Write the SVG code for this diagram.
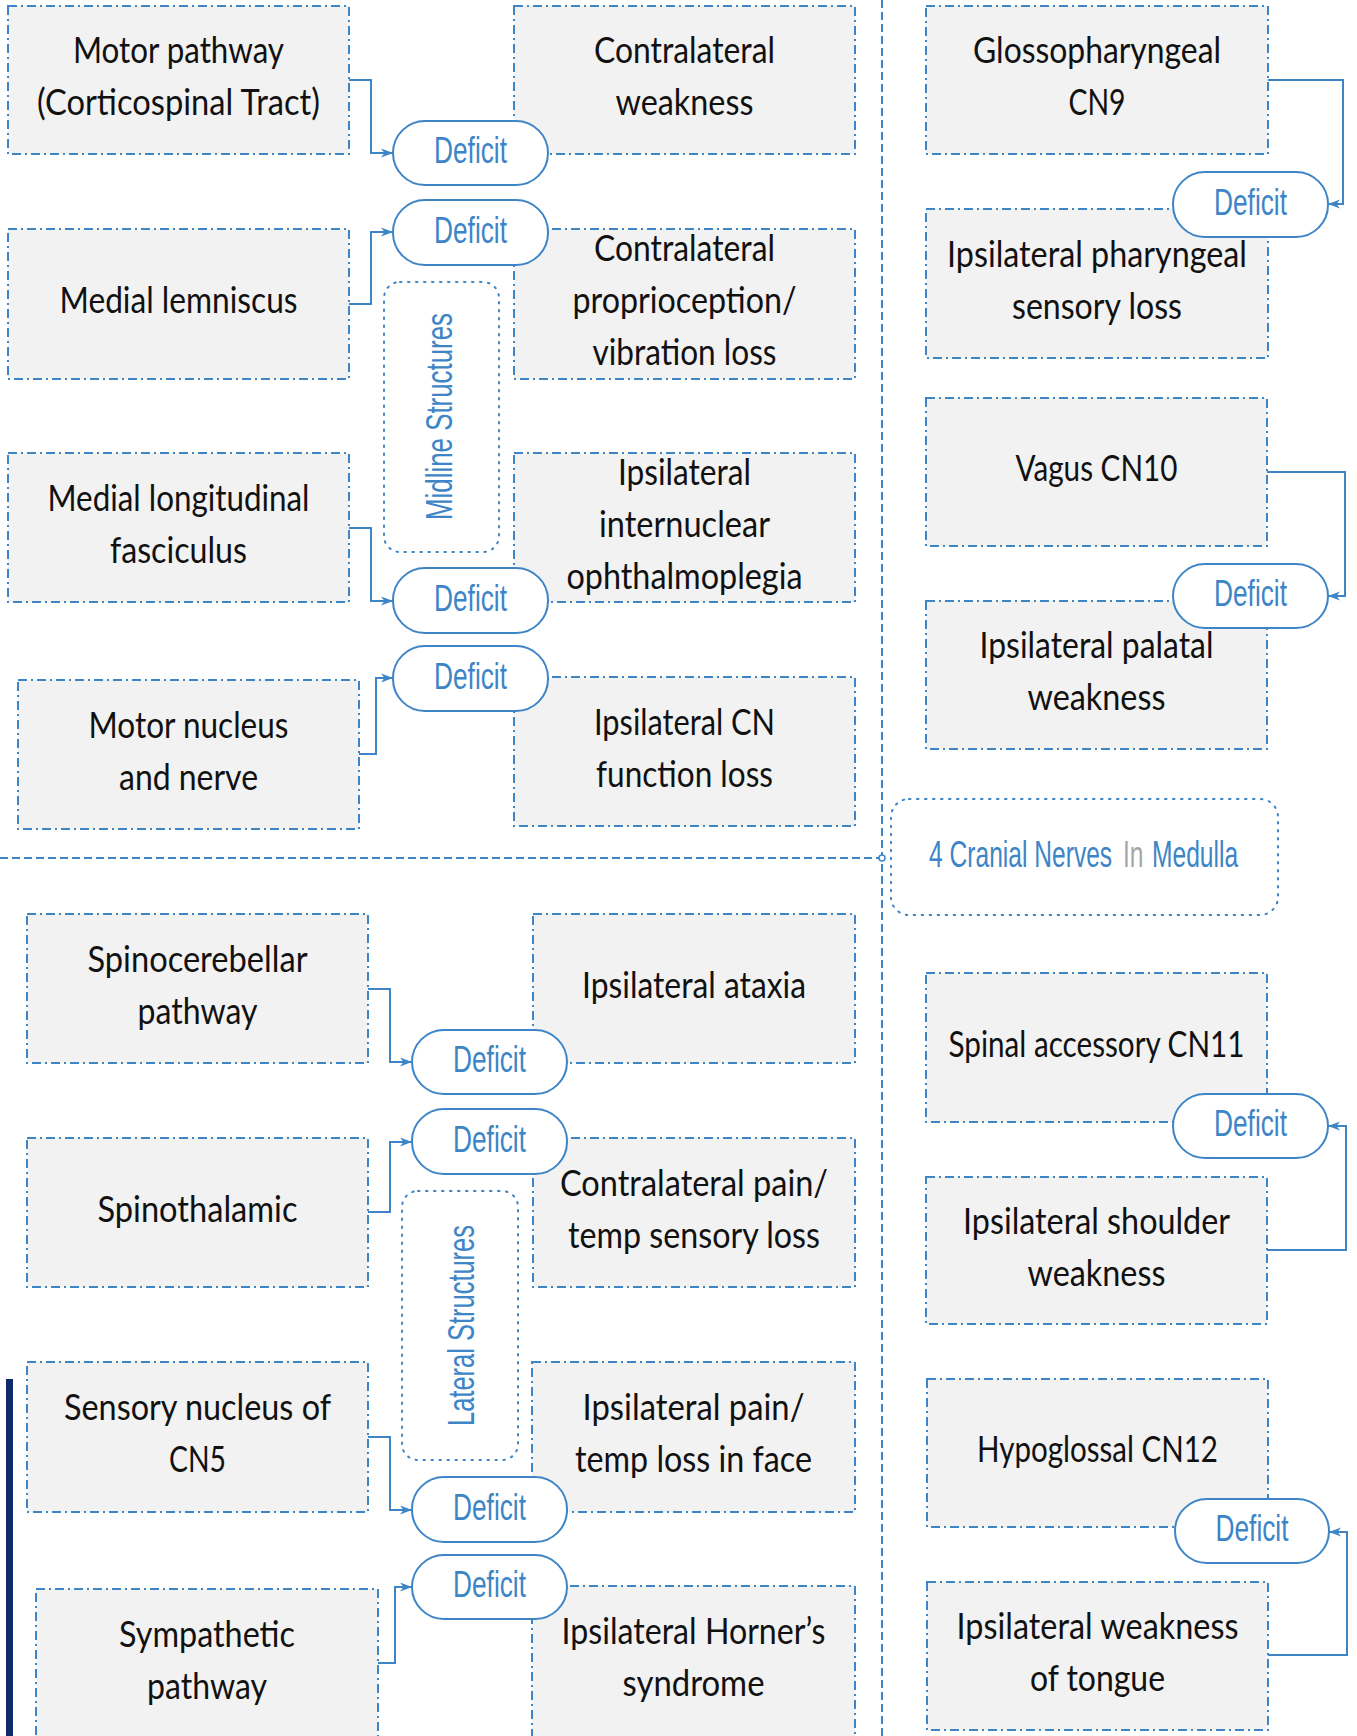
<svg xmlns="http://www.w3.org/2000/svg" width="1357" height="1736" viewBox="0 0 1357 1736">
<style>
.box{fill:#f2f2f2;stroke:#3d85c6;stroke-width:2;stroke-dasharray:9 4 2 4}
.pill{fill:#ffffff;stroke:#3d85c6;stroke-width:2}
.grp{fill:none;stroke:#3d85c6;stroke-width:2;stroke-dasharray:1.5 6.5;stroke-linecap:round}
.sep{fill:none;stroke:#3d85c6;stroke-width:2;stroke-dasharray:8 4}
.con{fill:none;stroke:#3d85c6;stroke-width:2;marker-end:url(#arr)}
.t{font-family:Lato,"Liberation Sans",sans-serif;font-size:36px;fill:#111111;text-anchor:middle}
.d{font-family:"Liberation Sans Narrow","Liberation Sans",sans-serif;font-size:37px;fill:#3d85c6;text-anchor:middle}
.g{font-family:"Liberation Sans Narrow","Liberation Sans",sans-serif;font-size:37px;fill:#3d85c6}
.gt{font-family:"Liberation Sans",sans-serif;font-size:37px;fill:#3d85c6}
</style>
<defs>
<marker id="arr" markerUnits="userSpaceOnUse" markerWidth="13" markerHeight="10" refX="12" refY="5" orient="auto">
<path d="M0,0.5 L12,5 L0,9.5 L3.5,5 z" fill="#3d85c6"/>
</marker>
</defs>

<g id="separators">
<line class="sep" x1="882" y1="0" x2="882" y2="1736"/>
<line class="sep" x1="0" y1="858" x2="879" y2="858"/>
<circle cx="882" cy="858" r="3" fill="#ffffff" stroke="#3d85c6" stroke-width="1.5"/>
<rect x="6" y="1379" width="7" height="357" fill="#102a6b"/>
</g>

<g id="group-midline">
<rect class="grp" x="384" y="282" width="115" height="270" rx="16"/>
<text class="g" transform="translate(452,416.5) rotate(-90)" text-anchor="middle" textLength="207" lengthAdjust="spacingAndGlyphs">Midline Structures</text>
</g>
<g id="group-lateral">
<rect class="grp" x="402" y="1191" width="116" height="269" rx="16"/>
<text class="g" transform="translate(473.5,1325.5) rotate(-90)" text-anchor="middle" textLength="201" lengthAdjust="spacingAndGlyphs">Lateral Structures</text>
</g>
<g id="title">
<rect class="grp" x="891" y="799" width="387" height="116" rx="18"/>
<text class="gt" transform="translate(929,867) scale(0.665,1)">4 Cranial Nerves</text>
<text class="gt" transform="translate(1123,867) scale(0.665,1)" style="fill:#a6a6a6">In</text>
<text class="gt" transform="translate(1152,867) scale(0.665,1)">Medulla</text>
</g>

<g id="n-motor-pathway"><rect class="box" x="8" y="6" width="341" height="148"/><text class="t" x="178.5" y="63" textLength="211" lengthAdjust="spacingAndGlyphs">Motor pathway</text><text class="t" x="178.5" y="115" textLength="283" lengthAdjust="spacingAndGlyphs">(Corticospinal Tract)</text></g>
<g id="n-medial-lemniscus"><rect class="box" x="8" y="229" width="341" height="150"/><text class="t" x="178.5" y="313" textLength="238" lengthAdjust="spacingAndGlyphs">Medial lemniscus</text></g>
<g id="n-mlf"><rect class="box" x="8" y="453" width="341" height="149"/><text class="t" x="178.5" y="510.5" textLength="262" lengthAdjust="spacingAndGlyphs">Medial longitudinal</text><text class="t" x="178.5" y="562.5" textLength="137" lengthAdjust="spacingAndGlyphs">fasciculus</text></g>
<g id="n-motor-nucleus"><rect class="box" x="18" y="680" width="341" height="149"/><text class="t" x="188.5" y="737.5" textLength="200" lengthAdjust="spacingAndGlyphs">Motor nucleus</text><text class="t" x="188.5" y="789.5" textLength="139" lengthAdjust="spacingAndGlyphs">and nerve</text></g>

<g id="n-contra-weakness"><rect class="box" x="514" y="6" width="341" height="148"/><text class="t" x="684.5" y="63" textLength="181" lengthAdjust="spacingAndGlyphs">Contralateral</text><text class="t" x="684.5" y="115" textLength="138" lengthAdjust="spacingAndGlyphs">weakness</text></g>
<g id="n-contra-proprio"><rect class="box" x="514" y="229" width="341" height="150"/><text class="t" x="684.5" y="261" textLength="181" lengthAdjust="spacingAndGlyphs">Contralateral</text><text class="t" x="684.5" y="313" textLength="224" lengthAdjust="spacingAndGlyphs">proprioception/</text><text class="t" x="684.5" y="365" textLength="184" lengthAdjust="spacingAndGlyphs">vibration loss</text></g>
<g id="n-ino"><rect class="box" x="514" y="453" width="341" height="149"/><text class="t" x="684.5" y="484.5" textLength="133" lengthAdjust="spacingAndGlyphs">Ipsilateral</text><text class="t" x="684.5" y="536.5" textLength="171" lengthAdjust="spacingAndGlyphs">internuclear</text><text class="t" x="684.5" y="588.5" textLength="236" lengthAdjust="spacingAndGlyphs">ophthalmoplegia</text></g>
<g id="n-cn-loss"><rect class="box" x="514" y="677" width="341" height="149"/><text class="t" x="684.5" y="734.5" textLength="181" lengthAdjust="spacingAndGlyphs">Ipsilateral CN</text><text class="t" x="684.5" y="786.5" textLength="177" lengthAdjust="spacingAndGlyphs">function loss</text></g>

<g id="n-spinocerebellar"><rect class="box" x="27" y="914" width="341" height="149"/><text class="t" x="197.5" y="971.5" textLength="220" lengthAdjust="spacingAndGlyphs">Spinocerebellar</text><text class="t" x="197.5" y="1023.5" textLength="120" lengthAdjust="spacingAndGlyphs">pathway</text></g>
<g id="n-spinothalamic"><rect class="box" x="27" y="1138" width="341" height="149"/><text class="t" x="197.5" y="1221.5" textLength="200" lengthAdjust="spacingAndGlyphs">Spinothalamic</text></g>
<g id="n-sensory-cn5"><rect class="box" x="27" y="1362" width="341" height="150"/><text class="t" x="197.5" y="1420" textLength="267" lengthAdjust="spacingAndGlyphs">Sensory nucleus of</text><text class="t" x="197.5" y="1472" textLength="57" lengthAdjust="spacingAndGlyphs">CN5</text></g>
<g id="n-sympathetic"><rect class="box" x="36" y="1589" width="342" height="149"/><text class="t" x="207" y="1646.5" textLength="176" lengthAdjust="spacingAndGlyphs">Sympathetic</text><text class="t" x="207" y="1698.5" textLength="120" lengthAdjust="spacingAndGlyphs">pathway</text></g>

<g id="n-ataxia"><rect class="box" x="533" y="914" width="322" height="149"/><text class="t" x="694" y="997.5" textLength="224" lengthAdjust="spacingAndGlyphs">Ipsilateral ataxia</text></g>
<g id="n-contra-pain"><rect class="box" x="533" y="1138" width="322" height="149"/><text class="t" x="694" y="1195.5" textLength="268" lengthAdjust="spacingAndGlyphs">Contralateral pain/</text><text class="t" x="694" y="1247.5" textLength="252" lengthAdjust="spacingAndGlyphs">temp sensory loss</text></g>
<g id="n-face-pain"><rect class="box" x="532" y="1362" width="323" height="150"/><text class="t" x="693.5" y="1420" textLength="222" lengthAdjust="spacingAndGlyphs">Ipsilateral pain/</text><text class="t" x="693.5" y="1472" textLength="237" lengthAdjust="spacingAndGlyphs">temp loss in face</text></g>
<g id="n-horner"><rect class="box" x="532" y="1586" width="323" height="152"/><text class="t" x="693.5" y="1644" textLength="264" lengthAdjust="spacingAndGlyphs">Ipsilateral Horner’s</text><text class="t" x="693.5" y="1696" textLength="142" lengthAdjust="spacingAndGlyphs">syndrome</text></g>

<g id="n-cn9"><rect class="box" x="926" y="6" width="342" height="148"/><text class="t" x="1097" y="63" textLength="248" lengthAdjust="spacingAndGlyphs">Glossopharyngeal</text><text class="t" x="1097" y="115" textLength="57" lengthAdjust="spacingAndGlyphs">CN9</text></g>
<g id="n-pharyngeal"><rect class="box" x="926" y="209" width="342" height="149"/><text class="t" x="1097" y="266.5" textLength="300" lengthAdjust="spacingAndGlyphs">Ipsilateral pharyngeal</text><text class="t" x="1097" y="318.5" textLength="170" lengthAdjust="spacingAndGlyphs">sensory loss</text></g>
<g id="n-cn10"><rect class="box" x="926" y="398" width="341" height="148"/><text class="t" x="1096.5" y="481" textLength="162" lengthAdjust="spacingAndGlyphs">Vagus CN10</text></g>
<g id="n-palatal"><rect class="box" x="926" y="601" width="341" height="148"/><text class="t" x="1096.5" y="658" textLength="234" lengthAdjust="spacingAndGlyphs">Ipsilateral palatal</text><text class="t" x="1096.5" y="710" textLength="138" lengthAdjust="spacingAndGlyphs">weakness</text></g>
<g id="n-cn11"><rect class="box" x="926" y="973" width="341" height="149"/><text class="t" x="1096.5" y="1056.5" textLength="296" lengthAdjust="spacingAndGlyphs">Spinal accessory CN11</text></g>
<g id="n-shoulder"><rect class="box" x="926" y="1177" width="341" height="147"/><text class="t" x="1096.5" y="1233.5" textLength="267" lengthAdjust="spacingAndGlyphs">Ipsilateral shoulder</text><text class="t" x="1096.5" y="1285.5" textLength="138" lengthAdjust="spacingAndGlyphs">weakness</text></g>
<g id="n-cn12"><rect class="box" x="927" y="1379" width="341" height="148"/><text class="t" x="1097.5" y="1462" textLength="241" lengthAdjust="spacingAndGlyphs">Hypoglossal CN12</text></g>
<g id="n-tongue"><rect class="box" x="927" y="1582" width="341" height="148"/><text class="t" x="1097.5" y="1639" textLength="282" lengthAdjust="spacingAndGlyphs">Ipsilateral weakness</text><text class="t" x="1097.5" y="1691" textLength="135" lengthAdjust="spacingAndGlyphs">of tongue</text></g>

<g id="connectors">
<path class="con" d="M349,80 H371 V153 H393"/>
<path class="con" d="M349,304 H371 V232 H393"/>
<path class="con" d="M349,528 H371 V601 H393"/>
<path class="con" d="M359,754 H376 V678 H393"/>
<path class="con" d="M368,989 H390 V1062 H412"/>
<path class="con" d="M368,1212 H390 V1142 H412"/>
<path class="con" d="M368,1437 H390 V1510 H412"/>
<path class="con" d="M378,1663 H395 V1587 H412"/>
<path class="con" d="M1268,80 H1343 V204 H1328"/>
<path class="con" d="M1267,472 H1345 V596 H1328"/>
<path class="con" d="M1267,1250 H1346 V1126 H1328"/>
<path class="con" d="M1268,1655 H1347 V1532 H1329"/>
</g>

<g id="p1"><rect class="pill" x="393" y="121" width="155" height="64" rx="32"/><text class="d" x="470.5" y="163" textLength="73" lengthAdjust="spacingAndGlyphs">Deficit</text></g>
<g id="p2"><rect class="pill" x="393" y="200" width="155" height="65" rx="32"/><text class="d" x="470.5" y="242.5" textLength="73" lengthAdjust="spacingAndGlyphs">Deficit</text></g>
<g id="p3"><rect class="pill" x="393" y="568" width="155" height="65" rx="32"/><text class="d" x="470.5" y="610.5" textLength="73" lengthAdjust="spacingAndGlyphs">Deficit</text></g>
<g id="p4"><rect class="pill" x="393" y="646" width="155" height="65" rx="32"/><text class="d" x="470.5" y="688.5" textLength="73" lengthAdjust="spacingAndGlyphs">Deficit</text></g>
<g id="p5"><rect class="pill" x="412" y="1030" width="155" height="64" rx="32"/><text class="d" x="489.5" y="1072" textLength="73" lengthAdjust="spacingAndGlyphs">Deficit</text></g>
<g id="p6"><rect class="pill" x="412" y="1109" width="155" height="65" rx="32"/><text class="d" x="489.5" y="1151.5" textLength="73" lengthAdjust="spacingAndGlyphs">Deficit</text></g>
<g id="p7"><rect class="pill" x="412" y="1477" width="155" height="65" rx="32"/><text class="d" x="489.5" y="1519.5" textLength="73" lengthAdjust="spacingAndGlyphs">Deficit</text></g>
<g id="p8"><rect class="pill" x="412" y="1555" width="155" height="64" rx="32"/><text class="d" x="489.5" y="1597" textLength="73" lengthAdjust="spacingAndGlyphs">Deficit</text></g>
<g id="p9"><rect class="pill" x="1173" y="172" width="155" height="65" rx="32"/><text class="d" x="1250.5" y="214.5" textLength="73" lengthAdjust="spacingAndGlyphs">Deficit</text></g>
<g id="p10"><rect class="pill" x="1173" y="564" width="155" height="64" rx="32"/><text class="d" x="1250.5" y="606" textLength="73" lengthAdjust="spacingAndGlyphs">Deficit</text></g>
<g id="p11"><rect class="pill" x="1173" y="1094" width="155" height="64" rx="32"/><text class="d" x="1250.5" y="1136" textLength="73" lengthAdjust="spacingAndGlyphs">Deficit</text></g>
<g id="p12"><rect class="pill" x="1175" y="1499" width="154" height="64" rx="32"/><text class="d" x="1252" y="1541" textLength="73" lengthAdjust="spacingAndGlyphs">Deficit</text></g>
</svg>
